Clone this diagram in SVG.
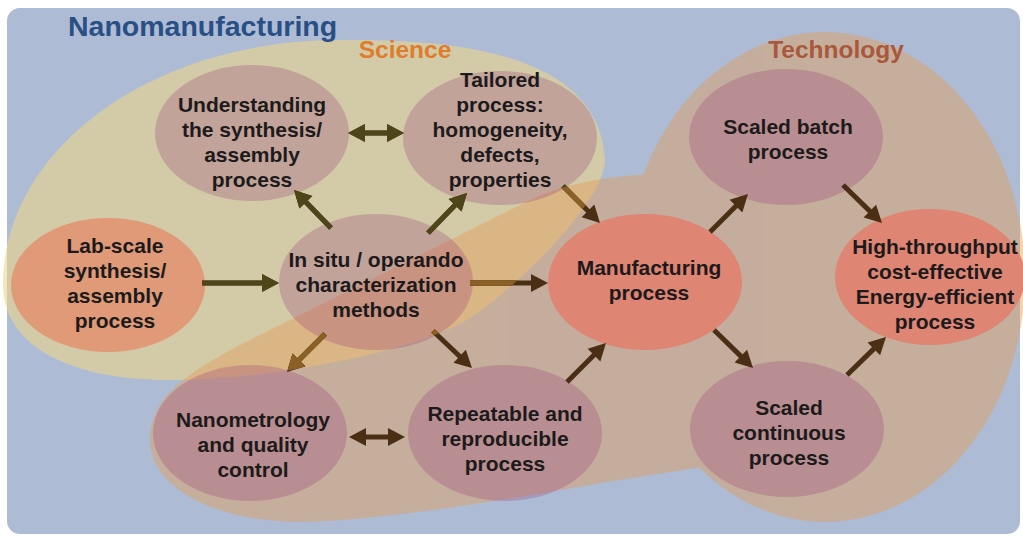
<svg xmlns="http://www.w3.org/2000/svg" xmlns:xlink="http://www.w3.org/1999/xlink" width="1023" height="536" viewBox="0 0 1023 536">
  <style>
    .lbl { font-family: "Liberation Sans", Arial, sans-serif; font-weight: bold; font-size: 21px; fill: #1c1a1a; text-anchor: middle; }
    .head { font-family: "Liberation Sans", Arial, sans-serif; font-weight: bold; }
    .mauve { fill: #963c78; fill-opacity: 0.28; }
    .orange { fill: #e09a78; }
    .red { fill: #de8574; }
    .ln { fill: none; stroke: currentColor; stroke-width: 5; }
  </style>
  <defs>
    <!-- domain outlines -->
    <path id="sciShape" d="M3 285 C3 150 150 40 340 40 C500 38 600 70 605 160 C605 200 520 285 470 318 C410 355 260 380 170 380 C60 380 3 340 3 285 Z"/>
    <ellipse id="techRound" cx="825" cy="277" rx="200" ry="245"/>
    <path id="techBand" d="M150 440 C150 395 190 370 260 335 L530 200 C570 180 640 170 700 175 L760 300 L720 465 C600 480 420 520 300 522 C220 522 150 490 150 440 Z"/>
    <clipPath id="clipSci"><use href="#sciShape"/></clipPath>
    <clipPath id="clipTech"><use href="#techRound"/><use href="#techBand"/></clipPath>
    <!-- arrowhead, tip at origin pointing along +x -->
    <path id="ah" d="M0 0 L-17 -9 L-17 9 Z" fill="currentColor"/>
  </defs>

  <!-- outer panel -->
  <rect x="7" y="8" width="1013" height="526" rx="13" fill="#adbcd4"/>

  <!-- Science domain -->
  <g id="science-domain">
    <use href="#sciShape" fill="#ecd68a" fill-opacity="0.6"/>
  </g>
  <!-- Technology domain -->
  <g id="technology-domain" opacity="0.45" fill="#e49d5c">
    <use href="#techRound"/>
    <use href="#techBand"/>
  </g>

  <text class="head" x="68" y="36" font-size="28.5" fill="#2a4f86">Nanomanufacturing</text>
  <text class="head" x="405" y="58" font-size="24.5" fill="#df7d2c" text-anchor="middle">Science</text>
  <text class="head" x="836" y="58" font-size="24.5" fill="#a9583c" text-anchor="middle">Technology</text>

  <!-- nodes -->
  <g id="understanding">
    <ellipse class="mauve" cx="252" cy="133" rx="97" ry="68"/>
    <text class="lbl" x="252" y="112">Understanding</text>
    <text class="lbl" x="252" y="137">the synthesis/</text>
    <text class="lbl" x="252" y="162">assembly</text>
    <text class="lbl" x="252" y="187">process</text>
  </g>
  <g id="tailored">
    <ellipse class="mauve" cx="500" cy="138" rx="97" ry="67"/>
    <text class="lbl" x="500" y="87">Tailored</text>
    <text class="lbl" x="500" y="112">process:</text>
    <text class="lbl" x="500" y="137">homogeneity,</text>
    <text class="lbl" x="500" y="162">defects,</text>
    <text class="lbl" x="500" y="187">properties</text>
  </g>
  <g id="lab-scale">
    <ellipse class="orange" cx="108" cy="285" rx="97" ry="67"/>
    <text class="lbl" x="115" y="253">Lab-scale</text>
    <text class="lbl" x="115" y="278">synthesis/</text>
    <text class="lbl" x="115" y="303">assembly</text>
    <text class="lbl" x="115" y="328">process</text>
  </g>
  <g id="in-situ">
    <ellipse class="mauve" cx="376" cy="282" rx="97" ry="68"/>
    <text class="lbl" x="376" y="267">In situ / operando</text>
    <text class="lbl" x="376" y="292">characterization</text>
    <text class="lbl" x="376" y="317">methods</text>
  </g>
  <g id="manufacturing">
    <ellipse class="red" cx="645" cy="282" rx="97" ry="68"/>
    <text class="lbl" x="649" y="275">Manufacturing</text>
    <text class="lbl" x="649" y="300">process</text>
  </g>
  <g id="scaled-batch">
    <ellipse class="mauve" cx="786" cy="137" rx="97" ry="68"/>
    <text class="lbl" x="788" y="134">Scaled batch</text>
    <text class="lbl" x="788" y="159">process</text>
  </g>
  <g id="high-throughput">
    <ellipse class="red" cx="930" cy="277" rx="95" ry="68"/>
    <text class="lbl" x="935" y="254">High-throughput</text>
    <text class="lbl" x="935" y="279">cost-effective</text>
    <text class="lbl" x="935" y="304">Energy-efficient</text>
    <text class="lbl" x="935" y="329">process</text>
  </g>
  <g id="scaled-continuous">
    <ellipse class="mauve" cx="787" cy="429" rx="97" ry="68"/>
    <text class="lbl" x="789" y="415">Scaled</text>
    <text class="lbl" x="789" y="440">continuous</text>
    <text class="lbl" x="789" y="465">process</text>
  </g>
  <g id="nanometrology">
    <ellipse class="mauve" cx="250" cy="433" rx="97" ry="68"/>
    <text class="lbl" x="253" y="427">Nanometrology</text>
    <text class="lbl" x="253" y="452">and quality</text>
    <text class="lbl" x="253" y="477">control</text>
  </g>
  <g id="repeatable">
    <ellipse class="mauve" cx="505" cy="433" rx="97" ry="68"/>
    <text class="lbl" x="505" y="421">Repeatable and</text>
    <text class="lbl" x="505" y="446">reproducible</text>
    <text class="lbl" x="505" y="471">process</text>
  </g>

  <!-- connectors: base colour, re-tinted inside the science area and the overlap -->
  <g id="connectors">
    <g style="color:#4b2f15">
      <g id="links">
        <path class="ln" d="M360 133 L392 133"/>
        <use href="#ah" transform="translate(348 133) rotate(180)"/>
        <use href="#ah" transform="translate(404 133)"/>
        <path class="ln" d="M331 228 L302.4 198.6"/>
        <use href="#ah" transform="translate(294 190) rotate(-134.2)"/>
        <path class="ln" d="M428 233 L458.6 201.6"/>
        <use href="#ah" transform="translate(467 193) rotate(-45.7)"/>
        <path class="ln" d="M202 283 L267 283"/>
        <use href="#ah" transform="translate(279 283)"/>
        <path class="ln" d="M470 283 L536 283"/>
        <use href="#ah" transform="translate(548 283)"/>
        <path class="ln" d="M563 186 L591.5 214.5"/>
        <use href="#ah" transform="translate(600 223) rotate(45)"/>
        <path class="ln" d="M710 232 L739.5 202.5"/>
        <use href="#ah" transform="translate(748 194) rotate(-45)"/>
        <path class="ln" d="M325 334 L295.5 363.5"/>
        <use href="#ah" transform="translate(287 372) rotate(135)"/>
        <path class="ln" d="M433 331 L463.3 359.7"/>
        <use href="#ah" transform="translate(472 368) rotate(43.5)"/>
        <path class="ln" d="M361 437 L393 437"/>
        <use href="#ah" transform="translate(349 437) rotate(180)"/>
        <use href="#ah" transform="translate(405 437)"/>
        <path class="ln" d="M567 382 L597.5 351.5"/>
        <use href="#ah" transform="translate(606 343) rotate(-45)"/>
        <path class="ln" d="M714 330 L744.4 359.6"/>
        <use href="#ah" transform="translate(753 368) rotate(44.3)"/>
        <path class="ln" d="M843 185 L873.4 214.6"/>
        <use href="#ah" transform="translate(882 223) rotate(44.3)"/>
        <path class="ln" d="M847 375 L877.4 345.4"/>
        <use href="#ah" transform="translate(886 337) rotate(-44.3)"/>
      </g>
    </g>
    <g clip-path="url(#clipSci)">
      <use href="#links" style="color:#4e4519"/>
      <g clip-path="url(#clipTech)">
        <use href="#links" style="color:#8b6024"/>
      </g>
    </g>
  </g>
</svg>
